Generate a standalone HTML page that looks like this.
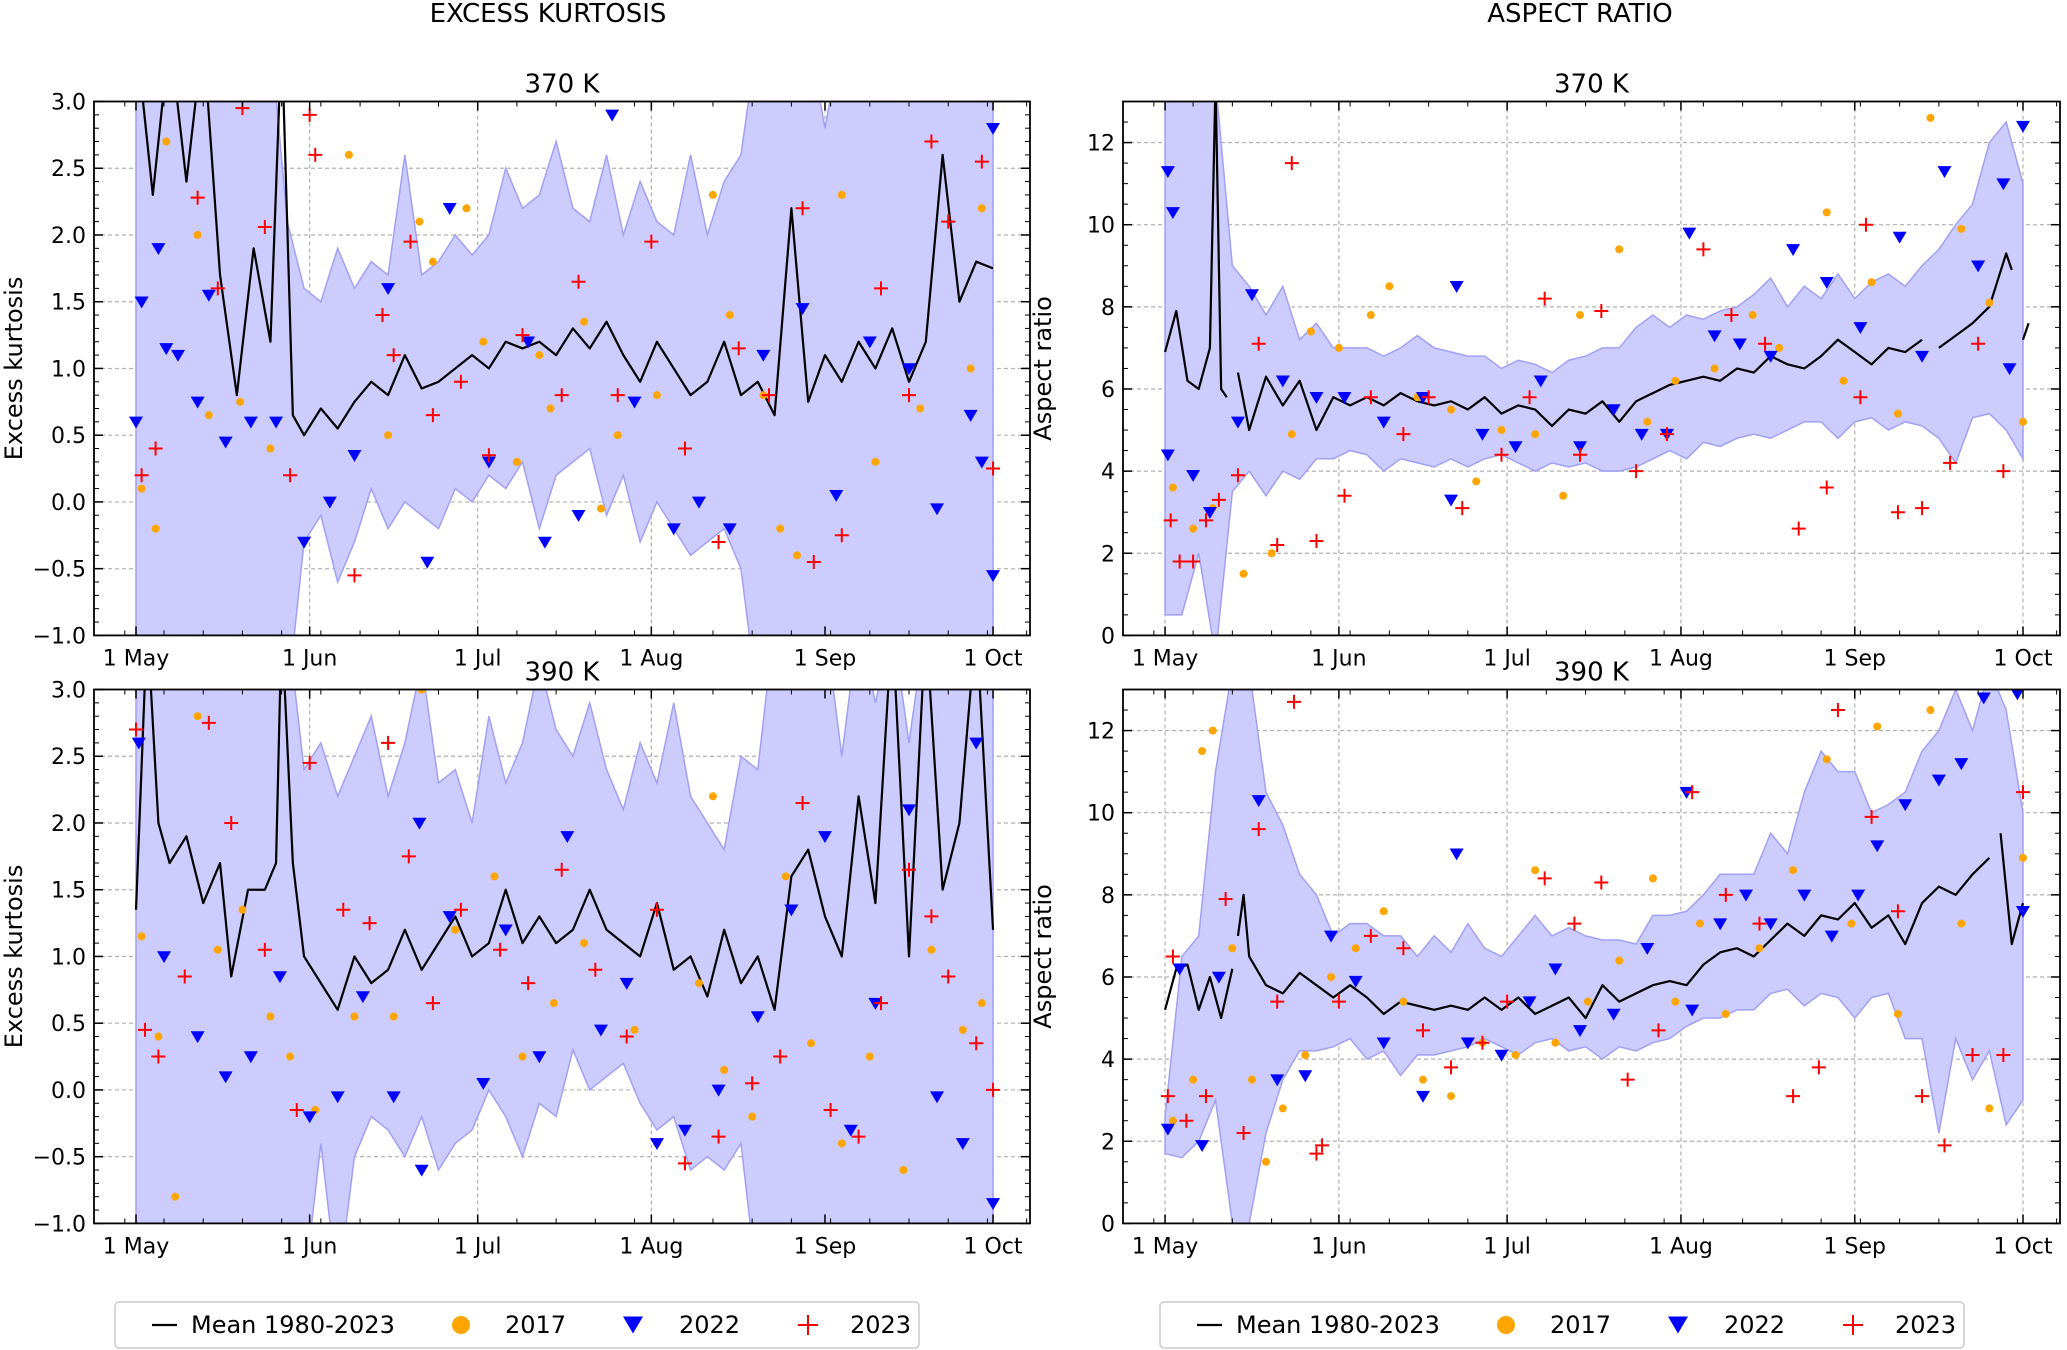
<!DOCTYPE html>
<html><head><meta charset="utf-8"><style>
html,body{margin:0;padding:0;background:#fff;}
svg{display:block;font-family:"DejaVu Sans","Liberation Sans",sans-serif;}
</style></head><body>
<svg id="fig" width="2067" height="1350" viewBox="0 0 2067 1350" xmlns="http://www.w3.org/2000/svg">
<text x="548" y="22" font-size="26" text-anchor="middle">EXCESS KURTOSIS</text>
<text x="1580" y="22" font-size="26" text-anchor="middle">ASPECT RATIO</text>
<g id="panels"></g>
<g id="legends"></g>
</svg>
<script>
// ---------- shared ----------
const bandDays=[0,3,6,9,12,15,18,21,24,27,30,33,36,39,42,45,48,51,54,57,60,63,66,69,72,75,78,81,84,87,90,93,96,99,102,105,108,111,114,117,120,123,126,129,132,135,138,141,144,147,150,153];
const monthTickDays=[0,31,61,92,123,153];
const monthTickLabels=["1 May","1 Jun","1 Jul","1 Aug","1 Sep","1 Oct"];
const kurtTicks=[-1.0,-0.5,0.0,0.5,1.0,1.5,2.0,2.5,3.0];
const kurtTickLabels=["\u22121.0","\u22120.5","0.0","0.5","1.0","1.5","2.0","2.5","3.0"];
const arTicks=[0,2,4,6,8,10,12];
const arTickLabels=["0","2","4","6","8","10","12"];

// ---------- Kurtosis 370 K ----------
const k370MeanDays=[0,3,6,9,12,15,18,21,24,26,28,30,33,36,39,42,45,48,51,54,57,60,63,66,69,72,75,78,81,84,87,90,93,96,99,102,105,108,111,114,117,120,123,126,129,132,135,138,141,144,147,150,153];
const k370Mean=[3.5,2.3,3.5,2.4,3.5,1.7,0.8,1.9,1.2,3.5,0.65,0.5,0.7,0.55,0.75,0.9,0.8,1.1,0.85,0.9,1.0,1.1,1.0,1.2,1.15,1.2,1.1,1.3,1.15,1.35,1.1,0.9,1.2,1.0,0.8,0.9,1.2,0.8,0.9,0.65,2.2,0.75,1.1,0.9,1.2,1.0,1.3,0.9,1.2,2.6,1.5,1.8,1.75];
const k370Upper=[3.5,3.5,3.5,3.5,3.5,3.5,3.5,3.5,3.5,2.1,1.6,1.5,1.9,1.6,1.8,1.7,2.6,1.7,1.8,2.0,1.85,2.0,2.5,2.2,2.3,2.7,2.2,2.1,2.6,2.0,2.4,2.1,2.0,2.6,2.0,2.4,2.6,3.5,3.5,3.5,3.5,2.8,3.5,3.5,3.5,3.5,3.5,3.5,3.5,3.5,3.5,3.5];
const k370Lower=[-1.5,-1.5,-1.5,-1.5,-1.5,-1.5,-1.5,-1.5,-1.5,-1.5,-0.3,-0.1,-0.6,-0.3,0.1,-0.2,0.0,-0.1,-0.2,0.1,0.0,0.2,0.1,0.3,-0.2,0.2,0.3,0.4,-0.1,0.2,-0.3,0.0,-0.2,-0.4,-0.3,-0.2,-0.5,-1.5,-1.5,-1.5,-1.5,-1.5,-1.5,-1.5,-1.5,-1.5,-1.5,-1.5,-1.5,-1.5,-1.5,-1.5];
const k370Y2017=[[1,0.1],[3.5,-0.2],[5.4,2.7],[11,2.0],[13,0.65],[18.6,0.75],[24,0.4],[38,2.6],[45,0.5],[50.6,2.1],[53,1.8],[59,2.2],[62,1.2],[72,1.1],[74,0.7],[80,1.35],[86,0.5],[93,0.8],[103,2.3],[106,1.4],[112,0.8],[118,-0.4],[126,2.3],[132,0.3],[140,0.7],[149,1.0],[151,2.2],[83,-0.05],[68,0.3],[115,-0.2]];
const k370Y2022=[[0,0.6],[1,1.5],[4,1.9],[5.4,1.15],[7.5,1.1],[11,0.75],[13,1.55],[16,0.45],[20.5,0.6],[25,0.6],[30,-0.3],[34.6,0.0],[39,0.35],[45,1.6],[52,-0.45],[56,2.2],[63,0.3],[70,1.2],[73,-0.3],[79,-0.1],[85,2.9],[89,0.75],[96,-0.2],[100.5,0.0],[106,-0.2],[112,1.1],[119,1.45],[125,0.05],[131,1.2],[138,1.0],[143,-0.05],[149,0.65],[151,0.3],[153,-0.55],[153,2.8]];
const k370Y2023=[[1,0.2],[3.5,0.4],[11,2.28],[14.6,1.6],[19,2.95],[23,2.06],[27.5,0.2],[31,2.9],[32,2.6],[39,-0.55],[44,1.4],[46,1.1],[49,1.95],[53,0.65],[58,0.9],[63,0.35],[69,1.25],[76,0.8],[79,1.65],[86,0.8],[92,1.95],[98,0.4],[104,-0.3],[107.6,1.15],[113,0.8],[119,2.2],[126,-0.25],[133,1.6],[138,0.8],[142,2.7],[145,2.1],[151,2.55],[153,0.25],[121,-0.45]];

// ---------- Kurtosis 390 K ----------
const k390MeanDays=[0,2,4,6,9,12,15,17,20,23,25,26,28,30,33,36,39,42,45,48,51,54,57,60,63,66,69,72,75,78,81,84,87,90,93,96,99,102,105,108,111,114,117,120,123,126,129,132,135,138,141,144,147,150,153];
const k390Mean=[1.35,3.5,2.0,1.7,1.9,1.4,1.7,0.85,1.5,1.5,1.7,3.5,1.7,1.0,0.8,0.6,1.0,0.8,0.9,1.2,0.9,1.1,1.3,1.0,1.1,1.5,1.1,1.3,1.1,1.2,1.5,1.2,1.1,1.0,1.4,0.9,1.0,0.7,1.2,0.8,1.0,0.6,1.6,1.8,1.3,1.0,2.2,1.4,3.5,1.0,3.5,1.5,2.0,3.5,1.2];
const k390Upper=[3.5,3.5,3.5,3.5,3.5,3.5,3.5,3.5,3.5,3.5,2.4,2.6,2.2,2.5,2.8,2.2,2.6,3.2,2.3,2.4,2.0,2.8,2.3,2.6,3.2,2.7,2.5,2.9,2.4,2.1,2.6,2.3,2.9,2.2,2.0,1.8,2.5,2.4,3.5,3.5,3.5,3.5,2.5,3.5,2.9,3.5,2.6,3.5,3.5,3.5,3.5,3.5];
const k390Lower=[-1.5,-1.5,-1.5,-1.5,-1.5,-1.5,-1.5,-1.5,-1.5,-1.5,-1.5,-0.4,-1.5,-0.5,-0.2,-0.3,-0.5,-0.2,-0.6,-0.4,-0.3,0.0,-0.2,-0.5,-0.1,-0.2,0.3,0.0,0.1,0.2,-0.1,-0.3,-0.2,-0.6,-0.5,-0.6,-0.4,-1.5,-1.5,-1.5,-1.5,-1.5,-1.5,-1.5,-1.5,-1.5,-1.5,-1.5,-1.5,-1.5,-1.5,-1.5];
const k390Y2017=[[1,1.15],[4,0.4],[7,-0.8],[11,2.8],[14.6,1.05],[19,1.35],[24,0.55],[27.5,0.25],[32,-0.15],[39,0.55],[46,0.55],[51,3.0],[57,1.2],[64,1.6],[69,0.25],[74.6,0.65],[80,1.1],[89,0.45],[93,-0.4],[100.5,0.8],[105,0.15],[110,-0.2],[116,1.6],[120.5,0.35],[126,-0.4],[131,0.25],[137,-0.6],[142,1.05],[147.6,0.45],[151,0.65],[103,2.2]];
const k390Y2022=[[0.5,2.6],[5,1.0],[11,0.4],[16,0.1],[20.5,0.25],[25.7,0.85],[31,-0.2],[36,-0.05],[40.5,0.7],[46,-0.05],[51,-0.6],[50.6,2.0],[56,1.3],[62,0.05],[66,1.2],[72,0.25],[77,1.9],[83,0.45],[87.6,0.8],[93,-0.4],[98,-0.3],[104,0.0],[111,0.55],[117,1.35],[123,1.9],[127.6,-0.3],[132,0.65],[138,2.1],[143,-0.05],[147.6,-0.4],[153,-0.85],[150,2.6]];
const k390Y2023=[[0,2.7],[1.6,0.45],[4,0.25],[8.7,0.85],[13,2.75],[17,2.0],[23,1.05],[28.7,-0.15],[31,2.45],[37,1.35],[41.7,1.25],[45,2.6],[48.7,1.75],[53,0.65],[58,1.35],[65,1.05],[70,0.8],[76,1.65],[82,0.9],[87.6,0.4],[93,1.35],[98,-0.55],[104,-0.35],[110,0.05],[115,0.25],[119,2.15],[124,-0.15],[129,-0.35],[133,0.65],[138,1.65],[142,1.3],[145,0.85],[150,0.35],[153,0.0]];

// ---------- Aspect ratio 370 K ----------
const a370MeanDays=[0,2,4,6,8,9,10,11,12,13,15,18,21,24,27,30,33,36,39,42,45,48,51,54,57,60,63,66,69,72,75,78,81,84,87,90,93,96,99,102,105,108,111,114,117,120,123,126,129,132,135,137,138,141,144,147,150,151,152,153,154];
const a370Mean=[6.9,7.9,6.2,6.0,7.0,13.5,6.0,5.8,null,6.4,5.0,6.3,5.6,6.2,5.0,5.8,5.6,5.8,5.6,5.9,5.7,5.6,5.7,5.5,5.8,5.4,5.6,5.5,5.1,5.5,5.4,5.7,5.2,5.7,5.9,6.1,6.2,6.3,6.2,6.5,6.4,6.8,6.6,6.5,6.8,7.2,6.9,6.6,7.0,6.9,7.2,null,7.0,7.3,7.6,8.0,9.3,8.9,null,7.2,7.6];
const a370Upper=[13.5,13.5,13.5,13.5,9.0,8.5,7.8,8.5,7.2,7.6,7.0,7.0,7.0,6.8,7.0,7.3,7.0,6.9,6.8,6.8,6.5,6.7,6.6,6.4,6.7,6.8,7.0,7.0,7.5,7.8,7.5,7.8,7.7,7.9,8.0,8.3,8.7,8.0,8.5,8.2,8.8,8.2,8.6,8.8,8.5,9.0,9.4,10.0,10.5,12.0,12.5,11.0];
const a370Lower=[0.5,0.5,2.0,-0.5,3.5,4.0,3.4,4.0,3.8,4.3,4.3,4.5,4.4,4.0,4.3,4.2,4.1,4.3,4.1,4.3,4.4,4.2,4.0,4.2,4.1,4.2,4.0,4.0,4.1,4.3,4.5,4.3,4.7,4.6,4.8,4.9,4.8,5.0,5.2,5.2,4.8,5.2,5.3,5.0,5.2,5.1,4.8,4.2,5.3,5.4,5.0,4.3];
const a370Y2017=[[1.4,3.6],[5,2.6],[8.5,3.1],[14,1.5],[19,2.0],[22.6,4.9],[26,7.4],[31,7.0],[36.7,7.8],[40,8.5],[45,5.8],[51,5.5],[55.5,3.75],[60,5.0],[66,4.9],[71,3.4],[74,7.8],[81,9.4],[86,5.2],[91,6.2],[98,6.5],[104.8,7.8],[109.5,7.0],[118,10.3],[121,6.2],[126,8.6],[130.7,5.4],[136.5,12.6],[142,9.9],[147,8.1],[153,5.2]];
const a370Y2022=[[0.5,11.3],[1.4,10.3],[0.5,4.4],[5,3.9],[8,3.0],[13,5.2],[15.5,8.3],[21,6.2],[27,5.8],[32,5.8],[39,5.2],[46,5.8],[52,8.5],[51,3.3],[56.6,4.9],[62.5,4.6],[67,6.2],[74,4.6],[80,5.5],[85,4.9],[89.5,4.9],[93.5,9.8],[98,7.3],[102.5,7.1],[108,6.8],[112,9.4],[118,8.6],[124,7.5],[131,9.7],[135,6.8],[139,11.3],[145,9.0],[149.5,11.0],[153,12.4],[150.6,6.5]];
const a370Y2023=[[1,2.8],[2.6,1.8],[5,1.8],[7.3,2.8],[9.6,3.3],[13,3.9],[16.7,7.1],[20,2.2],[22.6,11.5],[27,2.3],[32,3.4],[36.7,5.8],[42.5,4.9],[47,5.8],[53,3.1],[60,4.4],[65,5.8],[67.7,8.2],[74,4.4],[77.8,7.9],[84,4.0],[89.5,4.9],[96,9.4],[101,7.8],[107,7.1],[113,2.6],[118,3.6],[124,5.8],[125,10.0],[130.7,3.0],[135,3.1],[140,4.2],[145,7.1],[149.5,4.0]];

// ---------- Aspect ratio 390 K ----------
const a390MeanDays=[0,2,4,6,8,10,12,12.5,13,14,15,18,21,24,27,30,33,36,39,42,45,48,51,54,57,60,63,66,69,72,75,78,81,84,87,90,93,96,99,102,105,108,111,114,117,120,123,126,129,132,135,138,141,144,147,148,149,151,153];
const a390Mean=[5.2,6.2,6.3,5.2,6.0,5.0,6.2,null,7.0,8.0,6.5,5.8,5.6,6.1,5.8,5.5,5.8,5.5,5.1,5.4,5.3,5.2,5.3,5.2,5.5,5.2,5.5,5.1,5.3,5.5,5.0,5.8,5.4,5.6,5.8,5.9,5.8,6.3,6.6,6.7,6.5,6.9,7.3,7.0,7.5,7.4,7.8,7.2,7.5,6.8,7.8,8.2,8.0,8.5,8.9,null,9.5,6.8,7.8];
const a390Upper=[2.6,6.5,7.0,11.0,13.5,13.5,10.5,9.7,8.5,8.0,7.0,7.3,7.3,7.0,7.0,6.5,7.0,6.6,7.3,6.7,6.5,7.0,7.5,7.0,7.2,7.0,6.9,6.9,6.8,7.5,7.5,7.6,8.0,8.5,8.5,8.5,9.5,9.0,10.5,11.5,11.0,11.0,10.0,10.2,10.5,11.5,12.0,13.0,12.0,13.5,12.5,10.0];
const a390Lower=[1.7,1.6,2.0,3.0,0.0,0.0,2.2,3.5,4.2,4.2,4.3,4.5,4.0,4.2,3.6,4.1,4.1,4.2,4.3,4.5,4.3,4.1,4.4,4.5,4.2,4.3,4.0,4.3,4.2,4.4,4.5,4.8,5.0,5.0,5.2,5.2,5.6,5.7,5.3,5.6,5.5,5.0,5.5,5.6,4.5,4.5,2.2,4.5,3.5,4.2,2.4,3.0];
const a390Y2017=[[1.4,2.5],[5,3.5],[6.6,11.5],[8.5,12.0],[12,6.7],[15.5,3.5],[18,1.5],[21,2.8],[25,4.1],[29.6,6.0],[34,6.7],[39,7.6],[42.5,5.4],[46,3.5],[51,3.1],[56.6,4.4],[62.5,4.1],[66,8.6],[69.6,4.4],[75.4,5.4],[81,6.4],[87,8.4],[91,5.4],[95.4,7.3],[100,5.1],[106,6.7],[112,8.6],[118,11.3],[122.4,7.3],[127,12.1],[130.7,5.1],[136.5,12.5],[142,7.3],[147,2.8],[153,8.9]];
const a390Y2022=[[0.5,2.3],[2.6,6.2],[6.6,1.9],[9.6,6.0],[16.7,10.3],[20,3.5],[25,3.6],[29.6,7.0],[34,5.9],[39,4.4],[46,3.1],[52,9.0],[54,4.4],[60,4.1],[65,5.4],[69.6,6.2],[74,4.7],[80,5.1],[86,6.7],[93,10.5],[94,5.2],[99,7.3],[103.6,8.0],[108,7.3],[114,8.0],[118.9,7.0],[123.6,8.0],[127,9.2],[132,10.2],[138,10.8],[142,11.2],[146,12.8],[152,12.9],[153,7.6]];
const a390Y2023=[[0.5,3.1],[1.4,6.5],[3.8,2.5],[7.3,3.1],[10.8,7.9],[14,2.2],[16.7,9.6],[20,5.4],[23,12.7],[27,1.7],[28,1.9],[31,5.4],[36.7,7.0],[42.5,6.7],[46,4.7],[51,3.8],[56.6,4.4],[61,5.4],[67.7,8.4],[73,7.3],[77.8,8.3],[82.5,3.5],[88,4.7],[94,10.5],[100,8.0],[106,7.3],[112,3.1],[116.6,3.8],[120,12.5],[126,9.9],[130.7,7.6],[135,3.1],[139,1.9],[144,4.1],[149.5,4.1],[153,10.5]];

// ---------- drawing ----------
const NS="http://www.w3.org/2000/svg";
const svg=document.getElementById('fig');
const panelsG=document.getElementById('panels');
function mk(tag,attrs,parent){const e=document.createElementNS(NS,tag);for(const k in attrs)e.setAttribute(k,attrs[k]);(parent||panelsG).appendChild(e);return e;}

const XMIN=-7.5,XMAX=159.6;
const panels=[
 {id:'k370',x0:94,x1:1030,y0:101.5,y1:635.4,ymin:-1,ymax:3,ticks:kurtTicks,tl:kurtTickLabels,minor:0.1,title:'370 K',ylab:'Excess kurtosis',md:k370MeanDays,mean:k370Mean,up:k370Upper,lo:k370Lower,s17:k370Y2017,s22:k370Y2022,s23:k370Y2023},
 {id:'k390',x0:94,x1:1030,y0:689.5,y1:1223.4,ymin:-1,ymax:3,ticks:kurtTicks,tl:kurtTickLabels,minor:0.1,title:'390 K',ylab:'Excess kurtosis',md:k390MeanDays,mean:k390Mean,up:k390Upper,lo:k390Lower,s17:k390Y2017,s22:k390Y2022,s23:k390Y2023},
 {id:'a370',x0:1123,x1:2060,y0:101.5,y1:635.4,ymin:0,ymax:13,ticks:arTicks,tl:arTickLabels,minor:0.5,title:'370 K',ylab:'Aspect ratio',md:a370MeanDays,mean:a370Mean,up:a370Upper,lo:a370Lower,s17:a370Y2017,s22:a370Y2022,s23:a370Y2023},
 {id:'a390',x0:1123,x1:2060,y0:689.5,y1:1223.4,ymin:0,ymax:13,ticks:arTicks,tl:arTickLabels,minor:0.5,title:'390 K',ylab:'Aspect ratio',md:a390MeanDays,mean:a390Mean,up:a390Upper,lo:a390Lower,s17:a390Y2017,s22:a390Y2022,s23:a390Y2023}
];

function triPts(cx,cy,s){return `${cx-s},${cy-s*0.75} ${cx+s},${cy-s*0.75} ${cx},${cy+s*0.95}`;}

panels.forEach(p=>{
 const X=d=>p.x0+(d-XMIN)/(XMAX-XMIN)*(p.x1-p.x0);
 const Y=v=>p.y1-(v-p.ymin)/(p.ymax-p.ymin)*(p.y1-p.y0);
 const g=mk('g',{});
 
 
 const defs=mk('defs',{},g);
 const cp=mk('clipPath',{id:'clip-'+p.id},defs);
 mk('rect',{x:p.x0,y:p.y0,width:p.x1-p.x0,height:p.y1-p.y0},cp);
 // grid
 p.ticks.forEach(v=>{const l=mk('line',{x1:p.x0,x2:p.x1,y1:Y(v),y2:Y(v),stroke:'#b0b0b0','stroke-width':1.2,'stroke-dasharray':'4,3'},g);
  
  });
 monthTickDays.forEach(d=>{const l=mk('line',{x1:X(d),x2:X(d),y1:p.y0,y2:p.y1,stroke:'#b0b0b0','stroke-width':1.2,'stroke-dasharray':'4,3'},g);
  
  });
 const cg=mk('g',{'clip-path':`url(#clip-${p.id})`},g);
 // band
 let pts=bandDays.map((d,i)=>`${X(d)},${Y(p.up[i])}`);
 for(let i=bandDays.length-1;i>=0;i--)pts.push(`${X(bandDays[i])},${Y(p.lo[i])}`);
 const band=mk('polygon',{points:pts.join(' '),fill:'rgb(204,204,255)',stroke:'rgb(160,160,245)','stroke-width':1.5},cg);
 
 
 // mean line with gaps
 let dstr='',pen=false;
 p.md.forEach((d,i)=>{const v=p.mean[i];if(v===null){pen=false;return;}dstr+=(pen?'L':'M')+X(d)+','+Y(v)+' ';pen=true;});
 const ml=mk('path',{d:dstr,fill:'none',stroke:'#000','stroke-width':2.2,'stroke-linejoin':'round'},cg);
 
 
 // scatter
 p.s17.forEach(([d,v])=>{const c=mk('circle',{cx:X(d),cy:Y(v),r:4,fill:'orange'},cg);
  
  });
 p.s22.forEach(([d,v])=>{const t=mk('polygon',{points:triPts(X(d),Y(v),7),fill:'#0000ff'},cg);
  
  });
 p.s23.forEach(([d,v])=>{const x=X(d),y=Y(v);const pl=mk('path',{d:`M${x-7},${y}H${x+7}M${x},${y-7}V${y+7}`,stroke:'#ff0000','stroke-width':2,fill:'none'},cg);
  
  });
 // frame
 const fr=mk('rect',{x:p.x0,y:p.y0,width:p.x1-p.x0,height:p.y1-p.y0,fill:'none',stroke:'#000','stroke-width':1.8},g);
 
 
 // y ticks
 p.ticks.forEach((v,i)=>{const y=Y(v);
  mk('line',{x1:p.x0,x2:p.x0+9,y1:y,y2:y,stroke:'#000','stroke-width':1.5},g);
  mk('line',{x1:p.x1,x2:p.x1-9,y1:y,y2:y,stroke:'#000','stroke-width':1.5},g);
  const t=mk('text',{x:p.x0-8,y:y+8,'font-size':22,'text-anchor':'end'},g);t.textContent=p.tl[i];
  
  });
 for(let v=p.ymin;v<=p.ymax+1e-6;v+=p.minor){const y=Y(v);
  mk('line',{x1:p.x0,x2:p.x0+5,y1:y,y2:y,stroke:'#000','stroke-width':1},g);
  mk('line',{x1:p.x1,x2:p.x1-5,y1:y,y2:y,stroke:'#000','stroke-width':1},g);}
 // x ticks
 monthTickDays.forEach((d,i)=>{const x=X(d);
  mk('line',{x1:x,x2:x,y1:p.y1,y2:p.y1-9,stroke:'#000','stroke-width':1.5},g);
  mk('line',{x1:x,x2:x,y1:p.y0,y2:p.y0+9,stroke:'#000','stroke-width':1.5},g);
  const t=mk('text',{x:x,y:p.y1+30,'font-size':22,'text-anchor':'middle'},g);t.textContent=monthTickLabels[i];
  
  });
 for(let d=-2;d<XMAX;d+=7){const x=X(d);
  mk('line',{x1:x,x2:x,y1:p.y1,y2:p.y1-5,stroke:'#000','stroke-width':1},g);
  mk('line',{x1:x,x2:x,y1:p.y0,y2:p.y0+5,stroke:'#000','stroke-width':1},g);}
 // titles
 const tt=mk('text',{x:(p.x0+p.x1)/2,y:p.y0-9,'font-size':26,'text-anchor':'middle'},g);tt.textContent=p.title;
 
 
 const yl=mk('text',{x:0,y:0,'font-size':24,'text-anchor':'middle',transform:`translate(${p.x0-72},${(p.y0+p.y1)/2}) rotate(-90)`},g);yl.textContent=p.ylab;
 
 
});

// legends
const legG=document.getElementById('legends');
[0,1045].forEach(off=>{
 const g=mk('g',{transform:`translate(${off},0)`},legG);
 
 
 mk('rect',{x:115,y:1302,width:804,height:46,rx:4,fill:'#fff',stroke:'#cccccc','stroke-width':1.5},g);
 const cy=1325;
 mk('line',{x1:152,x2:177,y1:cy,y2:cy,stroke:'#000','stroke-width':2.2},g);
 const t1=mk('text',{x:191,y:cy+8,'font-size':24},g);t1.textContent='Mean 1980-2023';
 
 
 mk('circle',{cx:461,cy:cy,r:9,fill:'orange'},g);
 const t2=mk('text',{x:505,y:cy+8,'font-size':24},g);t2.textContent='2017';
 
 
 mk('polygon',{points:triPts(633,cy-1,10),fill:'#0000ff'},g);
 const t3=mk('text',{x:679,y:cy+8,'font-size':24},g);t3.textContent='2022';
 
 
 mk('path',{d:`M798,${cy}H818M808,${cy-10}V${cy+10}`,stroke:'#ff0000','stroke-width':2,fill:'none'},g);
 const t4=mk('text',{x:850,y:cy+8,'font-size':24},g);t4.textContent='2023';
 
 
});
</script>
</body></html>
